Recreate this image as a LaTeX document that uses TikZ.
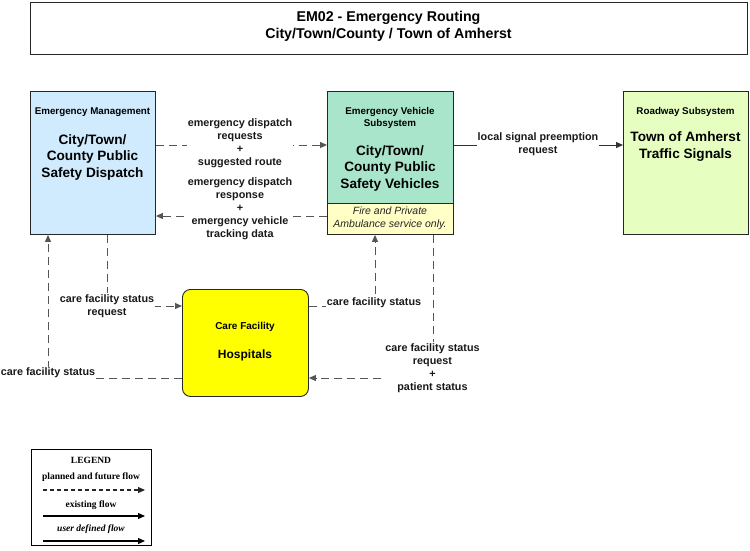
\documentclass[tikz,border=0pt]{standalone}
\usepackage{fontspec}
\setmainfont{Liberation Sans}
\newfontfamily\legendfont{Liberation Serif}
\usetikzlibrary{arrows.meta}
\definecolor{dispfill}{HTML}{CFEBFD}
\definecolor{vehfill}{HTML}{A9E5CB}
\definecolor{subfill}{HTML}{FFFFC6}
\definecolor{roadfill}{HTML}{E6FFC0}
\definecolor{hospfill}{HTML}{FFFF00}
\definecolor{linegray}{HTML}{555555}
\begin{document}
\begin{tikzpicture}[x=1pt,y=-1pt,
  box/.style={draw=black!85, line width=0.9pt, inner sep=0pt, anchor=north west},
  flow/.style={draw=linegray, line width=1pt, dash pattern=on 8pt off 5pt, -{Triangle[length=7pt,width=6pt]}},
  solidflow/.style={draw=black!80, line width=1pt, -{Triangle[length=7pt,width=6pt]}},
  lbl/.style={font=\fontsize{10.8}{13}\selectfont\bfseries, align=center, fill=white, inner sep=1pt, text=black!90},
  hdr/.style={font=\fontsize{9.8}{12}\selectfont\bfseries, align=center},
  main/.style={font=\fontsize{13.6}{16.5}\selectfont\bfseries, align=center},
  legtxt/.style={font=\legendfont\fontsize{9.5}{11}\selectfont\bfseries, align=center}]
\useasboundingbox (0,0) rectangle (750,550);

% title
\node[box, minimum width=717pt, minimum height=52pt] (title) at (30,2) {};
\node[main, font=\fontsize{14.2}{17}\selectfont\bfseries] (titletxt) at (388.5,26.5) {EM02 - Emergency Routing\\City/Town/County / Town of Amherst};

% dispatch
\node[box, fill=dispfill, minimum width=125pt, minimum height=143pt] (disp) at (30,91) {};
\node[hdr] (disphdr) at (92.5,112) {Emergency Management};
\node[main] (disptxt) at (92.5,157) {City/Town/\\County Public\\Safety Dispatch};

% vehicles
\node[box, fill=vehfill, minimum width=126pt, minimum height=112pt] (veh) at (327,91) {};
\node[box, fill=subfill, minimum width=126pt, minimum height=31pt] (vehsub) at (327,203) {};
\node[hdr] (vehhdr) at (390,118) {Emergency Vehicle\\Subsystem};
\node[main] (vehtxt) at (390,168) {City/Town/\\County Public\\Safety Vehicles};
\node[font=\fontsize{10.5}{12.5}\selectfont\itshape, align=center, text=black!85] (vehsubtxt) at (390,218.5) {Fire and Private\\Ambulance service only.};

% roadway
\node[box, fill=roadfill, minimum width=125pt, minimum height=143pt] (road) at (623,91) {};
\node[hdr] (roadhdr) at (685.5,112) {Roadway Subsystem};
\node[main] (roadtxt) at (685.5,146.5) {Town of Amherst\\Traffic Signals};

% hospital
\node[box, fill=hospfill, rounded corners=8pt, minimum width=126pt, minimum height=107pt] (hosp) at (182,289) {};
\node[hdr, font=\fontsize{10}{12}\selectfont\bfseries] (hosphdr) at (245,327) {Care Facility};
\node[main, font=\fontsize{12}{14}\selectfont\bfseries] (hosptxt) at (245,355) {Hospitals};

% helper coordinates
\coordinate (ya) at (0,145);
\coordinate (yb) at (0,216);
\coordinate (yc) at (0,306);
\coordinate (yd) at (0,378);
\coordinate (xa) at (107,0);
\coordinate (xb) at (48,0);
\coordinate (xc) at (375,0);
\coordinate (xd) at (433,0);

% connectors
\draw[flow] (disp.east |- ya) -- (veh.west |- ya);
\draw[flow] (vehsub.west |- yb) -- (disp.east |- yb);
\draw[solidflow] (veh.east |- ya) -- (road.west |- ya);
\draw[flow] (disp.south -| xa) |- (hosp.west |- yc);
\draw[flow] (hosp.west |- yd) -| (disp.south -| xb);
\draw[flow] (hosp.east |- yc) -| (vehsub.south -| xc);
\draw[flow] (vehsub.south -| xd) |- (hosp.east |- yd);

% labels
\node[lbl] (l1) at (240,143.5) {emergency dispatch\\requests\\+\\suggested route};
\node[lbl] (l2) at (240,209) {emergency dispatch\\response\\+\\emergency vehicle\\tracking data};
\node[lbl] (l3) at (538,144) {local signal preemption\\request};
\node[lbl] (l4) at (107,306) {care facility status\\request};
\node[lbl] (l5) at (48,373) {care facility status};
\node[lbl] (l6) at (374,303) {care facility status};
\node[lbl] (l7) at (432.5,368) {care facility status\\request\\+\\patient status};

% legend
\node[box, draw=black, line width=1.1pt, minimum width=120pt, minimum height=96pt] (legend) at (31,449) {};
\node[legtxt] (legtitle) at (91,460) {LEGEND};
\node[legtxt] (legplan) at (91,477) {planned and future flow};
\node[legtxt] (legexist) at (91,505) {existing flow};
\node[legtxt, font=\legendfont\fontsize{9.5}{11}\selectfont\bfseries\itshape] (leguser) at (91,529) {user defined flow};
\coordinate (lp1) at (43,490);
\coordinate (lp2) at (145,490);
\coordinate (le1) at (43,516);
\coordinate (le2) at (145,516);
\coordinate (lu1) at (43,541);
\coordinate (lu2) at (145,541);
\draw[draw=black!85, line width=1.2pt, dash pattern=on 4pt off 3pt, -{Triangle[length=7pt,width=6pt]}] (lp1) -- (lp2);
\draw[draw=black, line width=1.2pt, -{Triangle[length=7pt,width=6pt]}] (le1) -- (le2);
\draw[draw=black, line width=1.2pt, -{Triangle[length=7pt,width=6pt]}] (lu1) -- (lu2);
\end{tikzpicture}
\end{document}
